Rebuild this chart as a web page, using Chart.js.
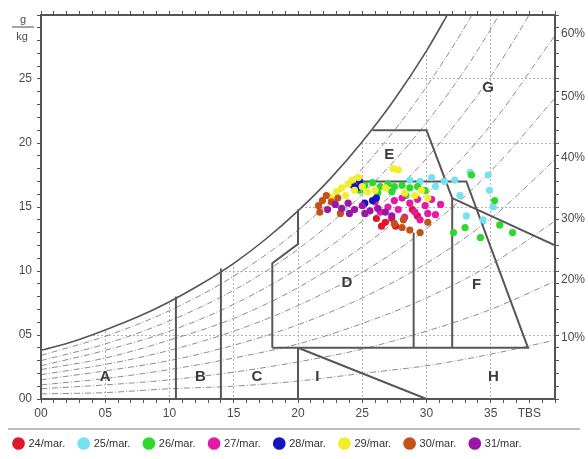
<!DOCTYPE html>
<html>
<head>
<meta charset="utf-8">
<script src="https://cdn.jsdelivr.net/npm/chart.js@4.4.0/dist/chart.umd.min.js"></script>
<style>
  html, body { margin: 0; padding: 0; background: #fff; }
  .chart { width: 588px; height: 459px; }
</style>
</head>
<body>
<div class="chart"><canvas id="psy" width="588" height="459"></canvas></div>
<script>
// saturation curve, g/kg against dry bulb temperature
const satT = [0, 2.5, 5, 7.5, 10, 12.5, 15, 17.5, 20, 22.5, 25, 27.5, 30, 31.5, 32];
const satW = [3.8, 4.5, 5.4, 6.4, 7.6, 9.0, 10.6, 12.5, 14.7, 17.2, 20.1, 23.4, 27.2, 29.8, 30.7];

// relative humidity curves
const rhLabels = ['10%', '20%', '30%', '40%', '50%', '60%', '70%', '80%', '90%'];
const rhT = [0, 5, 10, 15, 20, 25, 30, 35, 40];
const rhW = [
  [0.4, 0.5, 0.8, 1.0, 1.4, 2.0, 2.6, 3.5, 4.6],
  [0.8, 1.1, 1.5, 2.1, 2.9, 3.9, 5.3, 7.0, 9.2],
  [1.1, 1.6, 2.3, 3.2, 4.3, 5.9, 7.9, 10.5, 13.9],
  [1.5, 2.2, 3.0, 4.2, 5.8, 7.9, 10.6, 14.1, 18.7],
  [1.9, 2.7, 3.8, 5.3, 7.3, 9.9, 13.3, 17.8, 23.5],
  [2.3, 3.2, 4.6, 6.3, 8.7, 11.9, 16.0, 21.4, 28.4],
  [2.6, 3.8, 5.3, 7.4, 10.2, 13.9, 18.8, 25.2, 33.4],
  [3.0, 4.3, 6.1, 8.5, 11.7, 16.0, 21.6, 28.9, 38.5],
  [3.4, 4.9, 6.9, 9.6, 13.2, 18.0, 24.4, 32.7, 43.7]
];

// zone boundaries [T, W]
const zoneLines = [
  [[10.5, 0], [10.5, 8.0]],
  [[14, 0], [14, 10.2]],
  [[20, 0], [20, 4]],
  [[18, 4], [38, 4]],
  [[20, 4], [30, 0]],
  [[18, 4], [18, 10.6], [20, 12.1], [20, 14.8]],
  [[25.8, 21], [30, 21], [32, 15.7], [32, 4]],
  [[24.5, 17], [33.1, 17], [37.9, 4]],
  [[29, 4], [29, 13]],
  [[32, 15.7], [40, 12]]
];
const zoneLetters = ['A', 'B', 'C', 'I', 'H', 'D', 'F', 'E', 'G'];
const zoneT = [5.0, 12.4, 16.8, 21.5, 35.2, 23.8, 33.9, 27.1, 34.8];
const zoneW = [1.7, 1.7, 1.7, 1.7, 1.7, 9.1, 8.9, 19.1, 24.3];

// measurements per day [T, W]
const days = ['24/mar.', '25/mar.', '26/mar.', '27/mar.', '28/mar.', '29/mar.', '30/mar.', '31/mar.'];
const day24 = [[26.1, 14.1], [26.8, 13.8], [27.3, 14.1], [28.9, 14.8], [27.6, 13.5], [26.5, 13.5], [29.3, 14.3]];
const day25 = [[30.4, 17.3], [30.7, 16.6], [31.4, 17.0], [32.2, 17.1], [33.4, 17.7], [34.9, 16.3], [35.2, 15.0],
  [33.1, 14.3], [34.4, 14.0], [29.5, 17.0], [28.7, 17.1], [32.6, 15.9], [34.8, 17.5]];
const day26 = [[25.2, 16.7], [25.8, 16.9], [26.4, 16.6], [27.0, 16.8], [27.5, 16.6], [28.1, 16.7], [28.7, 16.5],
  [29.3, 16.6], [29.9, 16.3], [26.2, 16.1], [27.3, 16.2], [28.4, 15.9], [24.8, 16.3], [32.1, 13.0],
  [33.0, 13.4], [34.2, 12.6], [35.3, 15.5], [35.7, 13.6], [36.7, 13.0], [33.5, 17.5]];
const day27 = [[27.5, 15.5], [28.1, 15.7], [28.7, 15.3], [29.3, 15.6], [29.9, 15.1], [30.4, 15.6], [31.1, 15.2],
  [27.0, 15.0], [27.8, 14.8], [29.1, 14.6], [30.1, 14.5], [30.7, 14.4], [26.4, 14.6], [28.3, 14.2],
  [29.5, 14.0], [26.0, 15.4]];
const day28 = [[24.3, 16.7], [24.8, 17.0], [24.6, 16.5], [25.8, 15.5], [26.1, 15.7], [25.2, 15.3]];
const day29 = [[22.5, 15.8], [23.0, 16.2], [23.4, 16.5], [23.9, 16.8], [24.2, 17.1], [24.7, 17.3], [23.7, 15.9],
  [24.4, 16.3], [25.0, 16.6], [25.4, 16.2], [27.4, 18.0], [27.8, 17.9], [28.3, 16.1], [29.1, 15.9],
  [29.6, 16.3], [30.1, 15.7], [26.0, 16.3], [26.8, 16.5]];
const day30 = [[21.6, 15.1], [21.9, 15.5], [22.2, 15.9], [22.6, 15.4], [21.7, 14.6], [23.1, 15.7], [23.3, 14.5],
  [28.1, 13.4], [29.5, 13.0], [30.1, 13.8], [28.2, 14.0], [28.7, 13.2], [27.5, 13.7]];
const day31 = [[22.9, 15.2], [23.4, 14.9], [23.9, 15.3], [24.4, 14.8], [25.0, 15.1], [25.6, 14.7], [26.2, 14.9],
  [26.8, 14.6], [24.0, 14.5], [25.2, 14.5], [22.3, 14.8], [27.3, 14.3]];
const daySeries = [day24, day25, day26, day27, day28, day29, day30, day31];
const dayColors = ['#e0162b', '#74e3ef', '#2ed82e', '#e21aa6', '#1414c4', '#f2ee2a', '#c4501a', '#9a16a4'];

const FONT = "'Liberation Sans', Arial, sans-serif";
const INK = '#4a4a4a';
const toXY = (pts) => pts.map(([x, y]) => ({ x, y }));
const pad2 = (v) => (v < 10 ? '0' + v : String(v));

const datasets = [];
daySeries.forEach((pts, i) => {
  datasets.push({
    label: days[i],
    data: toXY(pts),
    backgroundColor: dayColors[i],
    borderColor: dayColors[i],
    borderWidth: 0,
    pointRadius: 3.6,
    order: 10 - i
  });
});
rhW.forEach((row, i) => {
  datasets.push({
    type: 'line',
    label: rhLabels[i],
    data: rhT.map((t, j) => ({ x: t, y: row[j] })),
    borderColor: '#8c8c8c',
    borderWidth: 1,
    borderDash: [6, 2, 1, 2],
    pointRadius: 0,
    cubicInterpolationMode: 'monotone',
    fill: false,
    order: 40
  });
});
zoneLines.forEach((pts, i) => {
  datasets.push({
    type: 'line',
    label: 'zone' + i,
    data: toXY(pts),
    borderColor: '#575757',
    borderWidth: 2,
    pointRadius: 0,
    tension: 0,
    fill: false,
    order: 30
  });
});
datasets.push({
  type: 'line',
  label: 'saturation',
  data: satT.map((t, j) => ({ x: t, y: satW[j] })),
  borderColor: '#555',
  borderWidth: 1.6,
  pointRadius: 0,
  cubicInterpolationMode: 'monotone',
  fill: 'end',
  backgroundColor: '#fff',
  order: 100
});

const gridColor = (c) => (c.tick && c.tick.value % 5 === 0 ? '#b4b4b4' : 'rgba(0,0,0,0)');

const overlay = {
  id: 'overlay',
  afterDatasetsDraw(chart) {
    const { ctx, chartArea: a, scales: { x, y } } = chart;
    ctx.save();
    ctx.strokeStyle = '#555';
    ctx.lineWidth = 2;
    ctx.strokeRect(a.left, a.top, a.right - a.left, a.bottom - a.top);

    ctx.fillStyle = '#3c3c3c';
    ctx.font = 'bold 15px ' + FONT;
    ctx.textAlign = 'center';
    ctx.textBaseline = 'middle';
    zoneLetters.forEach((t, i) => {
      ctx.fillText(t, x.getPixelForValue(zoneT[i]), y.getPixelForValue(zoneW[i]));
    });

    ctx.fillStyle = INK;
    ctx.font = '12px ' + FONT;
    ctx.textAlign = 'left';
    rhW.forEach((row, i) => {
      const w = row[row.length - 1];
      if (w < 30) ctx.fillText(rhLabels[i], a.right + 6, y.getPixelForValue(w) - 2);
    });

    // unit label on top of the left axis
    ctx.font = '11px ' + FONT;
    ctx.textAlign = 'center';
    ctx.fillText('g', 23, a.top + 5);
    ctx.fillText('kg', 22, a.top + 22);
    ctx.strokeStyle = INK;
    ctx.lineWidth = 1;
    ctx.beginPath();
    ctx.moveTo(12, a.top + 12);
    ctx.lineTo(34, a.top + 12);
    ctx.stroke();

    // rule above the legend
    const lg = chart.legend;
    ctx.strokeStyle = '#a8a8a8';
    ctx.lineWidth = 1.5;
    ctx.beginPath();
    ctx.moveTo(8, lg.top + 5);
    ctx.lineTo(580, lg.top + 5);
    ctx.stroke();
    ctx.restore();
  }
};

new Chart(document.getElementById('psy').getContext('2d'), {
  type: 'scatter',
  data: { datasets },
  options: {
    responsive: false,
    animation: false,
    layout: { padding: 0 },
    plugins: {
      tooltip: { enabled: false },
      legend: {
        position: 'bottom',
        align: 'start',
        labels: {
          filter: (item) => item.datasetIndex < days.length,
          sort: (a, b) => a.datasetIndex - b.datasetIndex,
          usePointStyle: true,
          pointStyle: 'circle',
          boxWidth: 9,
          boxHeight: 9,
          padding: 14,
          color: '#333',
          font: { family: FONT, size: 11 }
        }
      }
    },
    scales: {
      x: {
        type: 'linear', position: 'bottom', min: 0, max: 40,
        ticks: {
          stepSize: 1, autoSkip: false, maxRotation: 0, padding: 3,
          color: INK, font: { family: FONT, size: 12 },
          callback: (v) => (v === 38 ? 'TBS' : (v % 5 === 0 && v <= 35 ? pad2(v) : ''))
        },
        grid: { color: gridColor, tickColor: '#555', tickLength: 4, tickBorderDash: [] },
        border: { display: false, dash: [2, 2] },
        afterFit: (s) => { s.height = 25; }
      },
      y: {
        type: 'linear', position: 'left', min: 0, max: 30,
        ticks: {
          stepSize: 1, autoSkip: false, padding: 5,
          color: INK, font: { family: FONT, size: 12 },
          callback: (v) => (v % 5 === 0 && v < 30 ? pad2(v) : '')
        },
        grid: { color: gridColor, tickColor: '#555', tickLength: 4, tickBorderDash: [] },
        border: { display: false, dash: [2, 2] },
        afterFit: (s) => { s.width = 41; }
      },
      x2: {
        type: 'linear', position: 'top', min: 0, max: 40,
        ticks: { stepSize: 1, display: false },
        grid: { drawOnChartArea: false, tickColor: '#555', tickLength: 4 },
        border: { display: false },
        afterFit: (s) => { s.height = 15; }
      },
      y2: {
        type: 'linear', position: 'right', min: 0, max: 30,
        ticks: { stepSize: 1, display: false },
        grid: { drawOnChartArea: false, tickColor: '#555', tickLength: 4 },
        border: { display: false },
        afterFit: (s) => { s.width = 33; }
      }
    }
  },
  plugins: [overlay]
});
</script>
</body>
</html>
